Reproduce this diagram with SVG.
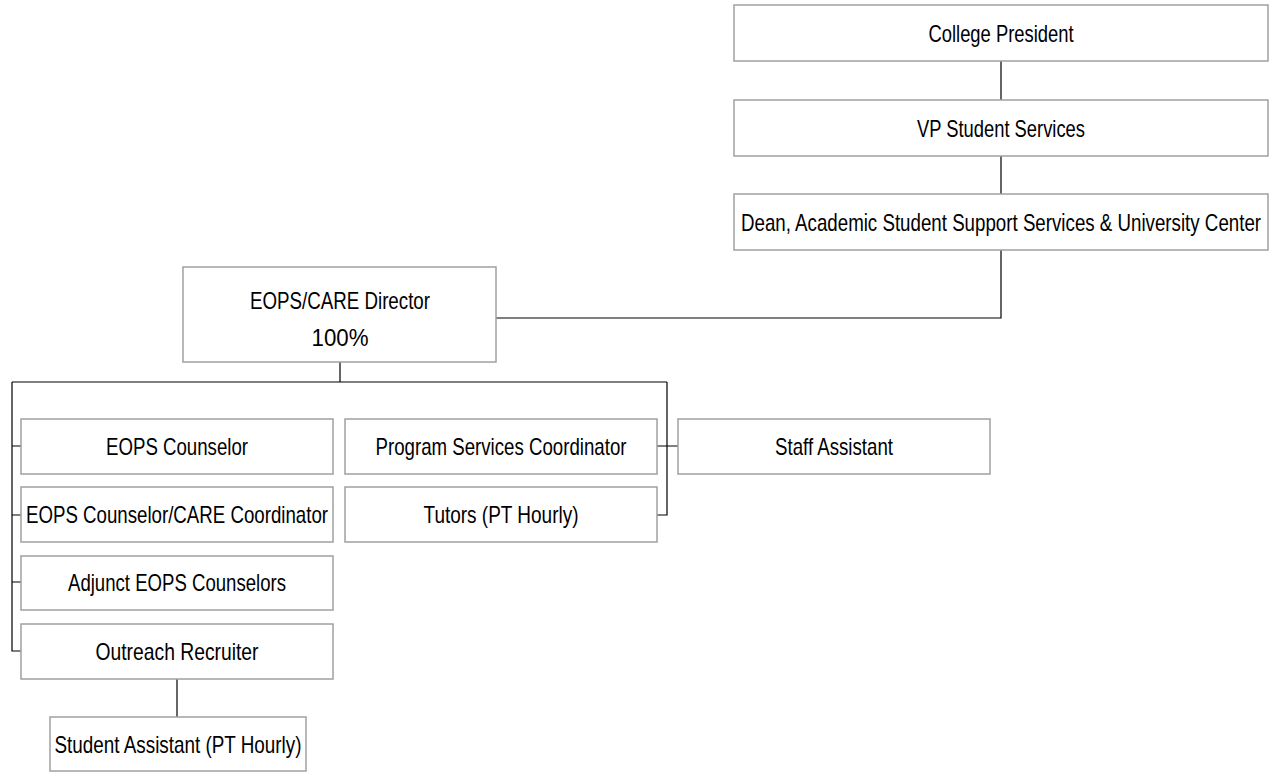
<svg xmlns="http://www.w3.org/2000/svg" width="1275" height="773" viewBox="0 0 1275 773">
<style>
.box{fill:#fff;stroke:#a0a0a0;stroke-width:1.5}
.t{font-family:"Liberation Sans Narrow","Liberation Sans",Arial,sans-serif;font-size:24px;fill:#000;text-anchor:middle}
.c{fill:none;stroke:#000;stroke-width:1.2}
</style>
<rect width="1275" height="773" fill="#fff"/>
<g id="connectors">
<path class="c" d="M1001 61V100M1001 156V194M1001 250V318H496"/>
<path class="c" d="M340 362V382M12 382H667M12 382V651H21M12 446H21M12 515H21M12 582H21"/>
<path class="c" d="M667 382V515H657M657 446H678"/>
<path class="c" d="M177 679V717"/>
</g>
<g id="college-president"><rect class="box" x="734" y="5" width="534" height="56"/><text class="t" x="1001" y="42" textLength="145" lengthAdjust="spacingAndGlyphs">College President</text></g>
<g id="vp-student-services"><rect class="box" x="734" y="100" width="534" height="56"/><text class="t" x="1001" y="137" textLength="168" lengthAdjust="spacingAndGlyphs">VP Student Services</text></g>
<g id="dean"><rect class="box" x="734" y="194" width="534" height="56"/><text class="t" transform="translate(1001 231) scale(0.78 1)" x="0" y="0" font-size="23">Dean, Academic Student Support Services &amp; University Center</text></g>
<g id="director"><rect class="box" x="183" y="267" width="313" height="95"/><text class="t" x="340" y="309" textLength="180" lengthAdjust="spacingAndGlyphs">EOPS/CARE Director</text><text class="t" x="340" y="346" textLength="57" lengthAdjust="spacingAndGlyphs">100%</text></g>
<g id="eops-counselor"><rect class="box" x="21" y="419" width="312" height="55"/><text class="t" x="177" y="455" textLength="142" lengthAdjust="spacingAndGlyphs">EOPS Counselor</text></g>
<g id="eops-care-coordinator"><rect class="box" x="21" y="487" width="312" height="55"/><text class="t" x="177" y="523" textLength="302" lengthAdjust="spacingAndGlyphs">EOPS Counselor/CARE Coordinator</text></g>
<g id="adjunct"><rect class="box" x="21" y="556" width="312" height="54"/><text class="t" x="177" y="591" textLength="218" lengthAdjust="spacingAndGlyphs">Adjunct EOPS Counselors</text></g>
<g id="outreach"><rect class="box" x="21" y="624" width="312" height="55"/><text class="t" x="177" y="660" textLength="163" lengthAdjust="spacingAndGlyphs">Outreach Recruiter</text></g>
<g id="student-assistant"><rect class="box" x="50" y="717" width="256" height="54"/><text class="t" x="178" y="753" textLength="247" lengthAdjust="spacingAndGlyphs">Student Assistant (PT Hourly)</text></g>
<g id="program-services"><rect class="box" x="345" y="419" width="312" height="55"/><text class="t" x="501" y="455" textLength="251" lengthAdjust="spacingAndGlyphs">Program Services Coordinator</text></g>
<g id="tutors"><rect class="box" x="345" y="487" width="312" height="55"/><text class="t" x="501" y="523" textLength="155" lengthAdjust="spacingAndGlyphs">Tutors (PT Hourly)</text></g>
<g id="staff-assistant"><rect class="box" x="678" y="419" width="312" height="55"/><text class="t" x="834" y="455" textLength="118" lengthAdjust="spacingAndGlyphs">Staff Assistant</text></g>
</svg>
